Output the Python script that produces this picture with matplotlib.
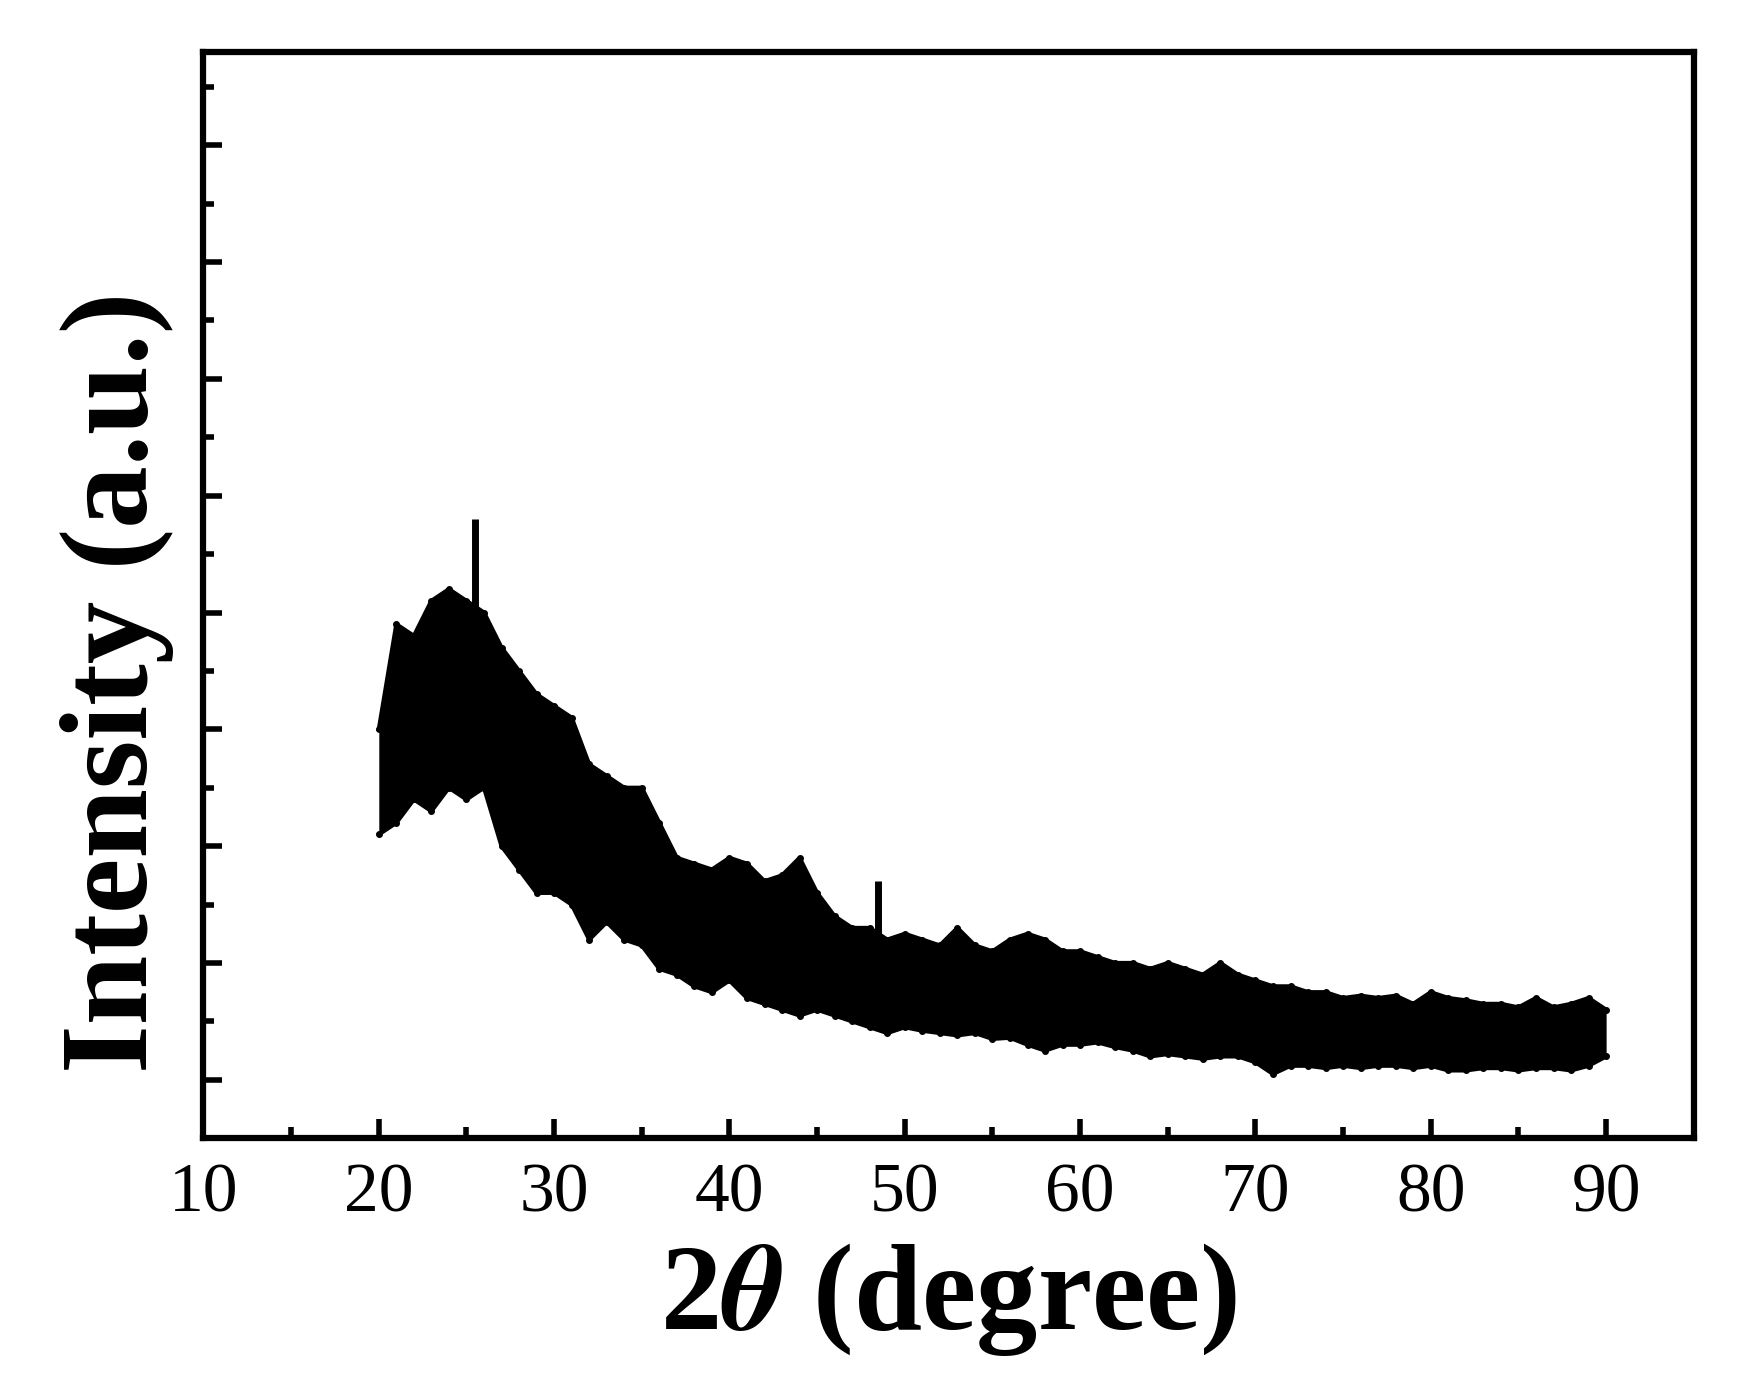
import matplotlib
matplotlib.use('Agg')
import matplotlib.pyplot as plt
from matplotlib.ticker import MultipleLocator

# envelope of the noisy XRD band, read at 1 degree steps from 20 to 90
two_theta = list(range(20, 91))
upper = [3.0, 3.9, 3.8, 4.1, 4.2, 4.1, 4.0, 3.7, 3.5, 3.3,
         3.2, 3.1, 2.7, 2.6, 2.5, 2.5, 2.2, 1.9, 1.85, 1.8,
         1.9, 1.85, 1.7, 1.75, 1.9, 1.6, 1.4, 1.3, 1.3, 1.2,
         1.25, 1.2, 1.15, 1.3, 1.15, 1.1, 1.2, 1.25, 1.2, 1.1,
         1.1, 1.05, 1.0, 1.0, 0.95, 1.0, 0.95, 0.9, 1.0, 0.9,
         0.85, 0.8, 0.8, 0.75, 0.75, 0.7, 0.72, 0.7, 0.72, 0.65,
         0.75, 0.7, 0.68, 0.65, 0.65, 0.62, 0.7, 0.62, 0.65, 0.7, 0.6]
lower = [2.1, 2.2, 2.4, 2.3, 2.5, 2.4, 2.5, 2.0, 1.8, 1.6,
         1.6, 1.5, 1.2, 1.35, 1.2, 1.15, 0.95, 0.9, 0.8, 0.75,
         0.85, 0.7, 0.65, 0.6, 0.55, 0.6, 0.55, 0.5, 0.45, 0.4,
         0.45, 0.42, 0.4, 0.38, 0.4, 0.35, 0.36, 0.3, 0.25, 0.3,
         0.3, 0.32, 0.28, 0.25, 0.2, 0.22, 0.2, 0.18, 0.2, 0.2,
         0.15, 0.05, 0.12, 0.12, 0.1, 0.12, 0.1, 0.12, 0.12, 0.1,
         0.12, 0.08, 0.08, 0.1, 0.1, 0.08, 0.1, 0.1, 0.08, 0.12, 0.2]
spike_x = [25.5, 48.5]
spike_lo = [3.0, 1.0]
spike_hi = [4.8, 1.7]

plt.rcParams['font.family'] = ['Liberation Serif', 'DejaVu Serif']
plt.rcParams['mathtext.fontset'] = 'stix'

fig = plt.figure(figsize=(17.39, 14), dpi=100)
ax = fig.add_axes([0.117, 0.187, 0.857, 0.776])

ax.fill_between(two_theta, lower, upper, color='black', lw=0)
ax.plot(two_theta, upper, color='black', lw=3, marker='o', ms=4)
ax.plot(two_theta, lower, color='black', lw=3, marker='o', ms=4)
ax.vlines(spike_x, spike_lo, spike_hi, color='black', lw=5)

ax.set_xlim(10, 95)
ax.set_ylim(-0.5, 8.8)
ax.xaxis.set_major_locator(MultipleLocator(10))
ax.xaxis.set_minor_locator(MultipleLocator(5))
ax.yaxis.set_major_locator(MultipleLocator(1))
ax.yaxis.set_minor_locator(MultipleLocator(0.5))
ax.tick_params(which='both', direction='in', width=4, labelsize=50, pad=18)
ax.tick_params(which='major', length=14)
ax.tick_params(which='minor', length=8)
ax.tick_params(axis='y', which='both', labelleft=False)
for s in ax.spines.values():
    s.set_linewidth(4.5)

ax.set_xlabel(r'2$\boldsymbol{\theta}$ (degree)', fontsize=88,
              fontweight='bold', labelpad=10)
ax.set_ylabel('Intensity (a.u.)', fontsize=90, fontweight='bold')
ax.yaxis.set_label_coords(-0.02, 0.42)

fig.savefig('out.png')
